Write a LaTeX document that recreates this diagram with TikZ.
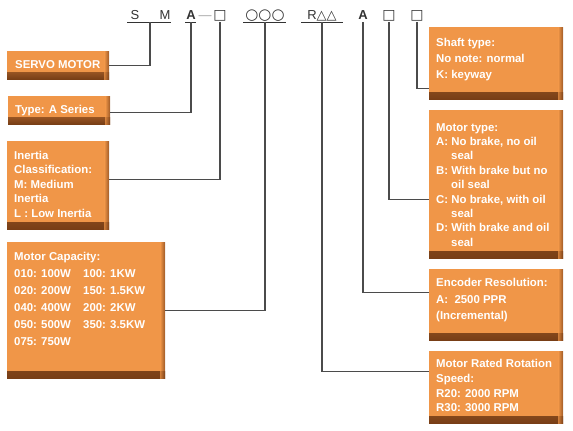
\documentclass[tikz,border=0pt]{standalone}
\usepackage{fontspec}
\setmainfont{Liberation Sans}
\newfontfamily\symfont{DejaVu Sans}
\usetikzlibrary{positioning,calc}
\definecolor{boxfill}{RGB}{240,150,72}
\definecolor{boxedge}{RGB}{120,62,22}
\definecolor{codegray}{RGB}{51,51,51}
\definecolor{linkgray}{RGB}{75,75,75}
\tikzset{
    panel/.style={rectangle, fill=boxfill, inner sep=0, anchor=north west,
        path picture={
            \shade[top color=boxfill, bottom color=boxedge] ([yshift=7pt]path picture bounding box.south west) rectangle (path picture bounding box.south east);
            \shade[left color=boxfill, right color=boxedge, opacity=0.7] ([xshift=-5pt]path picture bounding box.north east) rectangle (path picture bounding box.south east);
        }},
    paneltext/.style={anchor=north west, inner sep=0, text=white, align=left, font=\fontsize{11.4}{14.5}\selectfont\bfseries},
    code/.style={anchor=base, inner sep=0, text=codegray, font=\fontsize{13}{13}\selectfont},
    codebold/.style={code, font=\fontsize{13}{13}\selectfont\bfseries},
    codesym/.style={code, font=\fontsize{14}{14}\selectfont\symfont},
    link/.style={draw=linkgray, line width=1.2pt},
    uline/.style={draw=codegray, line width=0.9pt},
}
\begin{document}
\begin{tikzpicture}[x=1pt, y=-1pt]
    \useasboundingbox (0,0) rectangle (573,431);

    % model code
    \node[code] (cS) at (135,19.5) {S};
    \node[code] (cM) at (165,19.5) {M};
    \node[codebold] (cA) at (191,19.5) {A};
    \node[code, text=gray!70] (cdash) at (205,19.5) {—};
    \node[codesym] (cInertia) at (220,19.5) {□};
    \node[codesym, font=\fontsize{15}{15}\selectfont\symfont] (cCap) at (265,19.5) {○○○};
    \node[code] (cSpeed) at (322,19.5) {R{\symfont △△}};
    \node[codebold] (cEnc) at (363,19.5) {A};
    \node[codesym] (cMotor) at (389,19.5) {□};
    \node[codesym] (cShaft) at (417,19.5) {□};

    \draw[uline] (127,22) -- (171,22);
    \draw[uline] (185,22) -- (196,22);
    \draw[uline] (243,22) -- (286,22);
    \draw[uline] (301,22) -- (343,22);

    % left panels
    \node[panel, minimum width=102pt, minimum height=28pt] (servo) at (7,51) {};
    \node[paneltext] (servo-t) at ([shift={(8pt,-9pt)}]servo.north west) {SERVO MOTOR};

    \node[panel, minimum width=102pt, minimum height=28pt] (type) at (8,96) {};
    \node[paneltext] (type-t) at ([shift={(7pt,-9pt)}]type.north west) {Type: A Series};

    \node[panel, minimum width=102pt, minimum height=88pt] (inertia) at (7,141) {};
    \node[paneltext] (inertia-t) at ([shift={(7pt,-10pt)}]inertia.north west)
        {Inertia\\Classification:\\M: Medium\\Inertia\\L : Low Inertia};

    \node[panel, minimum width=158pt, minimum height=136pt] (cap) at (7,242) {};
    \node[paneltext, font=\fontsize{11.4}{17}\selectfont\bfseries] (cap-t) at ([shift={(7pt,-10pt)}]cap.north west)
        {Motor Capacity:\\
         \makebox[69pt][l]{010: 100W}100: 1KW\\
         \makebox[69pt][l]{020: 200W}150: 1.5KW\\
         \makebox[69pt][l]{040: 400W}200: 2KW\\
         \makebox[69pt][l]{050: 500W}350: 3.5KW\\
         075: 750W};

    % right panels
    \node[panel, minimum width=134pt, minimum height=72pt] (shaft) at (429,27) {};
    \node[paneltext, font=\fontsize{11.4}{15.8}\selectfont\bfseries] (shaft-t) at ([shift={(7pt,-11pt)}]shaft.north west)
        {Shaft type:\\No note: normal\\K: keyway};

    \node[panel, minimum width=134pt, minimum height=148pt] (motor) at (429,110) {};
    \node[paneltext, font=\fontsize{11.4}{14.4}\selectfont\bfseries] (motor-t) at ([shift={(7pt,-13pt)}]motor.north west)
        {Motor type:\\
         A: No brake, no oil\\\hspace*{15pt}seal\\
         B: With brake but no\\\hspace*{15pt}oil seal\\
         C: No brake, with oil\\\hspace*{15pt}seal\\
         D: With brake and oil\\\hspace*{15pt}seal};

    \node[panel, minimum width=134pt, minimum height=71pt] (enc) at (429,269) {};
    \node[paneltext, font=\fontsize{11.4}{16.7}\selectfont\bfseries] (enc-t) at ([shift={(7pt,-9pt)}]enc.north west)
        {Encoder Resolution:\\A:\ \ 2500 PPR\\(Incremental)};

    \node[panel, minimum width=134pt, minimum height=72pt] (speed) at (429,351) {};
    \node[paneltext, font=\fontsize{11.4}{14.8}\selectfont\bfseries] (speed-t) at ([shift={(7pt,-8pt)}]speed.north west)
        {Motor Rated Rotation\\Speed:\\R20: 2000 RPM\\R30: 3000 RPM};

    % connectors
    \draw[link] (servo.east) -| ($(cS.base)!0.5!(cM.base)+(0,2.5)$);
    \draw[link] ([yshift=-2.5pt]type.east) -| ([yshift=-2.5pt]cA.base);
    \draw[link] ([yshift=5.5pt]inertia.east) -| ([yshift=-2.5pt]cInertia.base);
    \draw[link] (cap.east) -| ([yshift=-2.5pt]cCap.base);
    \draw[link] ([yshift=-2.5pt]cShaft.base) |- ([yshift=-25pt]shaft.west);
    \draw[link] ([yshift=-2.5pt]cMotor.base) |- ([yshift=-15pt]motor.west);
    \draw[link] ([yshift=-2.5pt]cEnc.base) |- ([yshift=12.5pt]enc.west);
    \draw[link] ([yshift=-2.5pt]cSpeed.base) |- ([yshift=15.7pt]speed.west);
\end{tikzpicture}
\end{document}
